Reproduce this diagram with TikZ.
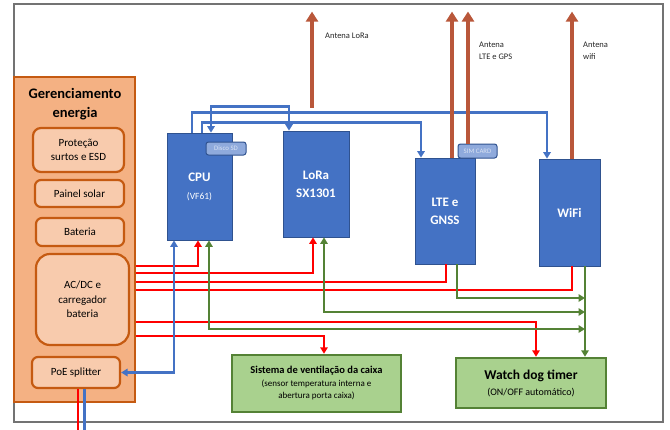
\documentclass[tikz,border=0pt]{standalone}
\usepackage{fontspec}
\setmainfont{Carlito}
\usepackage{xcolor}
\definecolor{pwrorange}{HTML}{F4B183}
\definecolor{pwrlight}{HTML}{F8CBAD}
\definecolor{pwredge}{HTML}{C55A11}
\definecolor{modblue}{HTML}{4472C4}
\definecolor{modedge}{HTML}{2F528F}
\definecolor{cardblue}{HTML}{8FAADC}
\definecolor{ctlgreen}{HTML}{548235}
\definecolor{boxgreen}{HTML}{A9D18E}
\definecolor{antbrown}{HTML}{B9573A}
\usetikzlibrary{arrows.meta, positioning}

\begin{document}
\begin{tikzpicture}[x=1pt, y=-1pt,
  >={Triangle[length=6.5pt,width=7.5pt]},
  pwrbox/.style={rectangle, draw=pwredge, line width=2.2pt, fill=pwrlight, rounded corners=6pt,
               align=center, inner sep=0pt, font=\fontsize{11}{14.5}\selectfont},
  module/.style={rectangle, draw=modedge, line width=0.8pt, fill=modblue, text=white,
               align=center, inner sep=0pt, font=\fontsize{13}{18}\selectfont\bfseries},
  card/.style={rectangle, draw=modedge, line width=1pt, fill=cardblue, rounded corners=2.5pt,
               text=white!80!modblue, inner sep=0pt, font=\fontsize{6.8}{8}\selectfont},
  auxbox/.style={rectangle, draw=ctlgreen, line width=2.5pt, fill=boxgreen, align=center, inner sep=0pt},
  antlbl/.style={anchor=west, align=left, inner sep=0pt, text=black!85, font=\fontsize{8.5}{12}\selectfont},
  ant/.style={antbrown, line width=4pt, -{Triangle[length=10pt,width=12pt]}},
  bus/.style={modblue, line width=2.3pt},
  pwr/.style={red, line width=1.9pt},
  ctl/.style={ctlgreen, line width=2.6pt}
]
\useasboundingbox (0,0) rectangle (670,429);
\draw[black!55, line width=1.3pt] (14,4) rectangle (663,422);

\node[rectangle, draw=pwredge, line width=1.5pt, fill=pwrorange, minimum width=121pt, minimum height=325pt] (ger) at (74.5,239.5) {};
\node[font=\fontsize{14.5}{19}\selectfont\bfseries, align=center] (gertitle) at (75,104) {Gerenciamento\\energia};
\node[pwrbox, rounded corners=8pt, minimum width=91pt, minimum height=44pt] (prot) at (78.5,150) {Proteção\\surtos e ESD};
\node[pwrbox, minimum width=89pt, minimum height=27pt] (solar) at (79.5,193.5) {Painel solar};
\node[pwrbox, minimum width=88pt, minimum height=28pt] (bat) at (80,232) {Bateria};
\node[pwrbox, rounded corners=14pt, minimum width=93pt, minimum height=91pt] (acdc) at (82.5,299.5) {AC/DC e\\carregador\\bateria};
\node[pwrbox, minimum width=88pt, minimum height=31pt] (poe) at (76,372.5) {PoE splitter};

\node[module, minimum width=65pt, minimum height=107pt] (cpu) at (199.5,186.5) {CPU\\{\fontsize{9.5}{12}\selectfont\mdseries(VF61)}};
\node[card, minimum width=40pt, minimum height=13pt] (sd) at (226,148.5) {Disco SD};
\node[module, minimum width=66pt, minimum height=106pt] (lora) at (316,184) {LoRa\\SX1301};
\node[module, minimum width=60pt, minimum height=106pt] (lte) at (445,211) {LTE e\\GNSS};
\node[card, minimum width=39pt, minimum height=14pt] (sim) at (477.5,151) {SIM CARD};
\node[module, minimum width=61pt, minimum height=107pt] (wifi) at (569.5,212.5) {WiFi};

\node[auxbox, minimum width=169pt, minimum height=57pt, font=\fontsize{9}{12.5}\selectfont] (vent) at (316.5,383.5)
  {{\fontsize{10.5}{13}\selectfont\bfseries Sistema de ventilação da caixa}\\(sensor temperatura interna e\\abertura porta caixa)};
\node[auxbox, minimum width=150pt, minimum height=50pt, font=\fontsize{10}{16}\selectfont] (wdt) at (531,383)
  {{\fontsize{13.5}{16}\selectfont\bfseries Watch dog timer}\\(ON/OFF automático)};

\coordinate (wdin) at ([xshift=15.5pt]wifi.south);

\draw[pwr, ->] (ger.east |- 0,266) -| ([xshift=-1.5pt]cpu.south);
\draw[pwr, ->] (ger.east |- 0,273) -| ([xshift=-3pt]lora.south);
\draw[pwr] (ger.east |- 0,282) -| ([xshift=1pt]lte.south);
\draw[pwr] (ger.east |- 0,290) -| ([xshift=2.5pt]wifi.south);
\draw[pwr, ->] (ger.east |- 0,322) -| ([xshift=5pt]wdt.north);
\draw[pwr, ->] (ger.east |- 0,336) -| ([xshift=7.5pt]vent.north);
\draw[pwr] ([xshift=2pt]poe.south) -- ++(0,41);

\draw[ctl, <->] ([xshift=9.5pt]cpu.south) |- (wdin |- 0,329);
\draw[ctl, <->] ([xshift=8pt]lora.south) |- (wdin |- 0,312);
\draw[ctl, ->] ([xshift=12pt]lte.south) |- (wdin |- 0,298);
\draw[ctl, ->] (wdin) -- (wdin |- wdt.north);

\draw[bus, <->] (poe.east) -| ([xshift=-25.5pt]cpu.south);
\draw[bus] ([xshift=8.5pt]poe.south) -- ++(0,41);
\draw[bus, ->] ([xshift=-7.5pt]cpu.north) -- ++(0,-20) -| ([xshift=-22.5pt]wifi.north);
\draw[bus, ->] ([xshift=2.5pt]cpu.north) -- ++(0,-10) -| ([xshift=-24pt]lte.north);
\draw[bus, <->] ([xshift=11.5pt]cpu.north) -- ++(0,-26) -| ([xshift=-27pt]lora.north);

\draw[ant] ([xshift=-4pt,yshift=23pt]lora.north) -- ++(0,-96);
\draw[ant] ([xshift=7pt]lte.north) -- ++(0,-146);
\draw[ant] ([xshift=-9.5pt]sim.north) -- ++(0,-132);
\draw[ant] ([xshift=2.5pt]wifi.north) -- ++(0,-147);

\node[antlbl] (lblora) at (325,36) {Antena LoRa};
\node[antlbl] (lblte) at (479,51) {Antena\\LTE e GPS};
\node[antlbl] (lbwifi) at (583,51) {Antena\\wifi};
\end{tikzpicture}
\end{document}
